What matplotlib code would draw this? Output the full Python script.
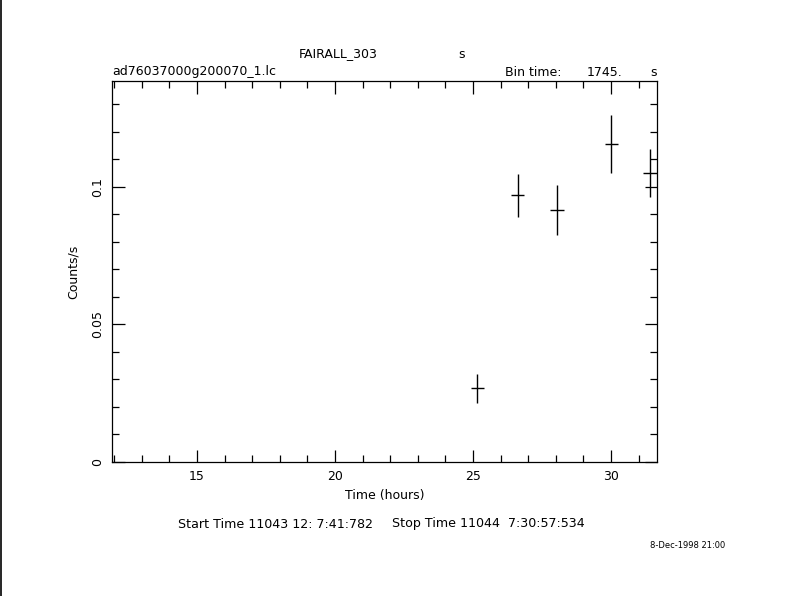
import matplotlib.pyplot as plt
from matplotlib.ticker import MultipleLocator

# light curve bins (time in hours, rate in counts/s)
time_h = [25.16, 26.62, 28.05, 30.01, 31.42]
rate = [0.0268, 0.0970, 0.0916, 0.1156, 0.1051]
rate_err = [0.0053, 0.0078, 0.0091, 0.0105, 0.0087]
bin_half = 1745.0 / 3600.0 / 2

fig = plt.figure(figsize=(7.9, 5.96), dpi=100)
ax = fig.add_axes([112 / 790, 1 - 462 / 596, 545 / 790, 381 / 596])

ax.errorbar(time_h, rate, yerr=rate_err, xerr=bin_half, fmt="none",
            ecolor="black", elinewidth=1.0, capsize=0)

ax.set_xlim(11.92, 31.67)
ax.set_ylim(0, 0.1385)
ax.xaxis.set_major_locator(MultipleLocator(5))
ax.xaxis.set_minor_locator(MultipleLocator(1))
ax.yaxis.set_major_locator(MultipleLocator(0.05))
ax.yaxis.set_minor_locator(MultipleLocator(0.01))
ax.set_yticks([0, 0.05, 0.1])
ax.set_yticklabels(["0", "0.05", "0.1"], rotation=90, va="center")
ax.tick_params(which="both", direction="in", top=True, right=True,
               labelsize=9, width=0.9)
ax.tick_params(which="major", length=9)
ax.tick_params(which="minor", length=5)
ax.tick_params(axis="x", pad=6)
ax.tick_params(axis="y", pad=6)
for s in ax.spines.values():
    s.set_linewidth(0.9)

ax.set_xlabel("Time (hours)", fontsize=9, labelpad=4)
ax.set_ylabel("Counts/s", fontsize=9, labelpad=8)

# header and footer texts
fs = 9
fig.text(338 / 790, 1 - 54 / 596, "FAIRALL_303", fontsize=fs, ha="center", va="center")
fig.text(462 / 790, 1 - 54 / 596, "s", fontsize=fs, ha="center", va="center")
fig.text(112 / 790, 1 - 72 / 596, "ad76037000g200070_1.lc", fontsize=fs, ha="left", va="center")
fig.text(505 / 790, 1 - 72 / 596, "Bin time:", fontsize=fs, ha="left", va="center")
fig.text(622 / 790, 1 - 72 / 596, "1745.", fontsize=fs, ha="right", va="center")
fig.text(654 / 790, 1 - 72 / 596, "s", fontsize=fs, ha="center", va="center")
fig.text(178 / 790, 1 - 524 / 596, "Start Time 11043 12: 7:41:782",
         fontsize=9.1, ha="left", va="center")
fig.text(392 / 790, 1 - 524 / 596, "Stop Time 11044  7:30:57:534",
         fontsize=9.1, ha="left", va="center")
fig.text(650 / 790, 1 - 545 / 596, "8-Dec-1998 21:00", fontsize=6, ha="left", va="center")

# black edge line at the left of the image
fig.add_artist(plt.Line2D([0.5 / 790, 0.5 / 790], [0, 1], color="black", lw=1.2))

fig.savefig("out.png", dpi=100)
